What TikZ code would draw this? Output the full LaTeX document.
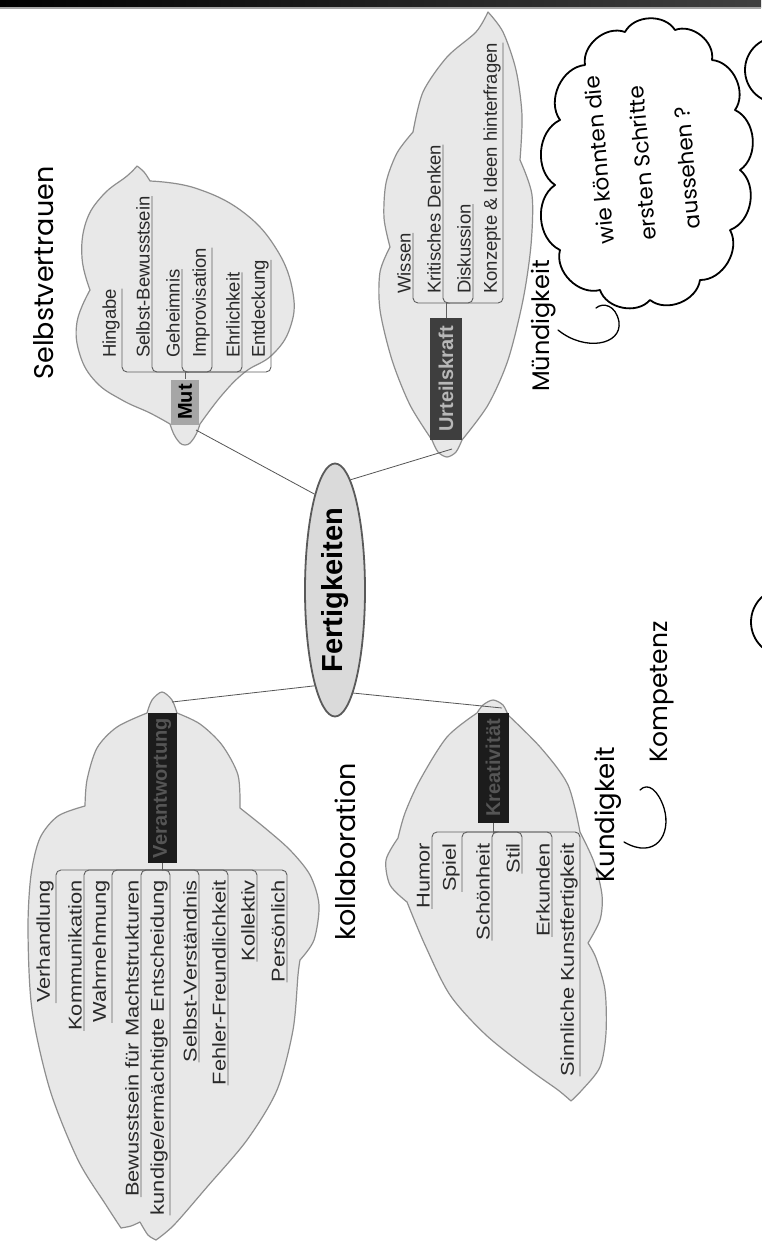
\documentclass[tikz,border=0pt]{standalone}
\usepackage{fontspec}
\setmainfont{Liberation Sans}
\newfontfamily\widesans[FakeStretch=1.18]{Liberation Sans}
\newfontfamily\hand{Poppins}
\usetikzlibrary{shapes.geometric}
\definecolor{cloudfill}{HTML}{E8E8E8}
\definecolor{cloudline}{HTML}{8E8E8E}
\definecolor{branchc}{HTML}{5E5E5E}
\definecolor{lbltext}{HTML}{2A2A2A}
\definecolor{connc}{HTML}{555555}
\definecolor{mutfill}{HTML}{A6A6A6}
\definecolor{urtfill}{HTML}{3E3E3E}
\definecolor{urttext}{HTML}{B8B8B8}
\definecolor{darkfill}{HTML}{1C1C1C}
\definecolor{darktext}{HTML}{555555}
\definecolor{fertfill}{HTML}{DADADA}
\definecolor{fertline}{HTML}{5A5A5A}
\begin{document}
\begin{tikzpicture}[x=1pt, y=-1pt,
 cloudshape/.style={fill=cloudfill, draw=cloudline, line width=1.2pt, line join=round},
 lbl/.style={font=\fontsize{18.5}{20}\selectfont, text=lbltext, rotate=90, inner xsep=0pt, inner ysep=2pt},
 lbllow/.style={lbl, font=\widesans\fontsize{18.5}{20}\selectfont},
 branch/.style={draw=branchc, line width=0.9pt, rounded corners=5pt},
 conn/.style={draw=connc, line width=0.8pt},
 keybox/.style={rotate=90, font=\bfseries\fontsize{20}{22}\selectfont, inner sep=0pt},
 hw/.style={font=\hand\fontsize{22}{24}\selectfont, inner sep=0pt, text=black},
 hwline/.style={draw=black, line width=1.8pt, line cap=round, line join=round}]
\useasboundingbox (0,0) rectangle (761,1243);
\fill[white] (0,0) rectangle (761,1243);
\shade[left color=black, right color=black!75] (0,0) rectangle (761,7);
\fill[black!35] (0,7) rectangle (761,9);

% ---------- clouds ----------
\path[cloudshape] plot[smooth, tension=0.7] coordinates {(170,424) (150,413) (122,400) (96,382) (80,355) (77,322) (90,290)}
 -- plot[smooth, tension=0.7] coordinates {(90,290) (82,258) (86,222) (103,195) (127,176) (137,166)}
 -- plot[smooth, tension=0.7] coordinates {(137,166) (144,172) (150,181)}
 -- plot[smooth, tension=0.7] coordinates {(150,181) (195,188) (243,212) (277,250) (293,293) (290,328) (272,355) (245,372) (222,395) (200,424)}
 -- plot[smooth, tension=0.8] coordinates {(200,424) (194,438) (185,445) (176,438) (170,424)}
 -- cycle;

\path[cloudshape] plot[smooth] coordinates {(432,440) (410,405) (392,360) (380,310) (380,272) (390,247)}
 -- plot[smooth] coordinates {(390,247) (384,218) (386,183) (397,153) (413,132)}
 -- plot[smooth] coordinates {(413,132) (423,92) (447,57) (476,32) (488,12)}
 -- plot[smooth] coordinates {(488,12) (503,32) (516,70) (522,115) (520,160)}
 -- plot[smooth] coordinates {(520,160) (532,195) (531,245) (523,300) (508,360) (488,405) (462,440)}
 -- plot[smooth] coordinates {(462,440) (456,452) (447,457) (438,452) (432,440)}
 -- cycle;

\path[cloudshape] plot[smooth] coordinates {(147,713) (117,727) (97,748) (87,780) (85,806)}
 -- plot[smooth] coordinates {(85,806) (58,816) (40,838) (31,875) (28,930) (32,1010) (50,1090) (78,1160) (106,1205) (121,1228)}
 -- plot[smooth] coordinates {(121,1228) (131,1226) (140,1222)}
 -- plot[smooth] coordinates {(140,1222) (148,1235) (156,1240)}
 -- plot[smooth] coordinates {(156,1240) (174,1225) (207,1187) (247,1140) (277,1090) (293,1030) (298,975) (300,960)}
 -- plot[smooth] coordinates {(300,960) (314,940) (319,905) (310,875) (290,850) (265,828) (240,808)}
 -- plot[smooth] coordinates {(240,808) (238,775) (222,745) (200,724) (177,713)}
 -- plot[smooth] coordinates {(177,713) (172,700) (162,692) (152,700) (147,713)}
 -- cycle;

\path[cloudshape] plot[smooth] coordinates {(477,713) (447,737) (420,780) (405,813) (398,838)}
 -- plot[smooth] coordinates {(398,838) (386,860) (390,885) (407,902)}
 -- plot[smooth] coordinates {(407,902) (425,945) (450,995) (486,1035) (530,1070) (558,1090) (571,1101)}
 -- plot[smooth] coordinates {(571,1101) (582,1090) (600,1067) (606,1033) (605,990) (596,958) (588,943)}
 -- plot[smooth] coordinates {(588,943) (600,920) (602,895) (594,862) (580,832)}
 -- plot[smooth] coordinates {(580,832) (568,785) (541,748) (508,715)}
 -- plot[smooth] coordinates {(508,715) (503,705) (493,700) (483,705) (477,713)}
 -- cycle;

% ---------- key boxes ----------
\node[keybox, fill=mutfill, text=black, minimum width=45pt, minimum height=28pt] (mut) at (185,402) {Mut};
\node[keybox, fill=urtfill, text=urttext, minimum width=122pt, minimum height=32pt] (urt) at (446,379) {Urteilskraft};
\node[keybox, fill=darkfill, text=darktext, minimum width=150pt, minimum height=29pt] (ver) at (162,788) {Verantwortung};
\node[keybox, fill=darkfill, text=darktext, minimum width=110pt, minimum height=31pt] (kre) at (493,768) {Kreativität};

\coordinate (mutbar) at (185,372);
\coordinate (urtbar) at (446,303);
\coordinate (verbar) at (162,870);
\coordinate (krebar) at (493,832);

% ---------- labels: Mut ----------
\node[lbl, anchor=south west] (m1) at (122,358) {Hingabe};
\node[lbl, anchor=south west] (m2) at (152,358) {Selbst-Bewusstsein};
\node[lbl, anchor=south west] (m3) at (182,358) {Geheimnis};
\node[lbl, anchor=south west] (m4) at (212,358) {Improvisation};
\node[lbl, anchor=south west] (m5) at (242,358) {Ehrlichkeit};
\node[lbl, anchor=south west] (m6) at (271,358) {Entdeckung};
\foreach \n in {m1,m2,m3,m4,m5,m6}
  \draw[branch] (\n.south east) -- (\n.south west) |- (mutbar);
\draw[branch] (mutbar) -- (mut.east);

% ---------- labels: Urteilskraft ----------
\node[lbl, anchor=south west] (u1) at (413,294) {Wissen};
\node[lbl, anchor=south west] (u2) at (443,294) {Kritisches Denken};
\node[lbl, anchor=south west] (u3) at (473,294) {Diskussion};
\node[lbl, anchor=south west] (u4) at (503,294) {Konzepte \& Ideen hinterfragen};
\foreach \n in {u1,u2,u3,u4}
  \draw[branch] (\n.south east) -- (\n.south west) |- (urtbar);
\draw[branch] (urtbar) -- (urt.east);

% ---------- labels: Verantwortung ----------
\node[lbllow, anchor=south east] (v1) at (56,880) {Verhandlung};
\node[lbllow, anchor=south east] (v2) at (84,880) {Kommunikation};
\node[lbllow, anchor=south east] (v3) at (112,880) {Wahrnehmung};
\node[lbllow, anchor=south east] (v4) at (141,880) {Bewusstsein für Machtstrukturen};
\node[lbllow, anchor=south east] (v5) at (170,880) {kundige/ermächtigte Entscheidung};
\node[lbllow, anchor=south east] (v6) at (199,880) {Selbst-Verständnis};
\node[lbllow, anchor=south east] (v7) at (228,880) {Fehler-Freundlichkeit};
\node[lbllow, anchor=south east] (v8) at (257,880) {Kollektiv};
\node[lbllow, anchor=south east] (v9) at (287,880) {Persönlich};
\foreach \n in {v1,v2,v3,v4,v5,v6,v7,v8,v9}
  \draw[branch] (\n.south west) -- (\n.south east) |- (verbar);
\draw[branch] (verbar) -- (ver.west);

% ---------- labels: Kreativitaet ----------
\node[lbllow, anchor=south east] (k1) at (432,843) {Humor};
\node[lbllow, anchor=south east] (k2) at (462,843) {Spiel};
\node[lbllow, anchor=south east] (k3) at (492,843) {Schönheit};
\node[lbllow, anchor=south east] (k4) at (522,843) {Stil};
\node[lbllow, anchor=south east] (k5) at (552,843) {Erkunden};
\node[lbllow, anchor=south east] (k6) at (580,843) {Sinnliche Kunstfertigkeit};
\foreach \n in {k1,k2,k3,k4,k5,k6}
  \draw[branch] (\n.south west) -- (\n.south east) |- (krebar);
\draw[branch] (krebar) -- (kre.west);

% ---------- central node ----------
\node[ellipse, rotate=90, draw=fertline, line width=1.8pt, fill=fertfill, minimum width=253pt, minimum height=60pt, inner sep=0pt, font=\bfseries\fontsize{29}{30}\selectfont] (fert) at (335,590) {Fertigkeiten};

\coordinate (mutend) at (196,430);
\coordinate (urtend) at (452,449);
\coordinate (verend) at (172,702);
\coordinate (kreend) at (502,708);
\draw[conn] (fert.12) -- (mutend);
\draw[conn] (fert.-8) -- (urtend);
\draw[conn] (fert.168) -- (verend);
\draw[conn] (fert.190) -- (kreend);

% ---------- handwriting ----------
\node[hw, rotate=90, font=\hand\fontsize{27}{29}\selectfont] (selbst) at (44,273) {Selbstvertrauen};
\node[hw, rotate=90, font=\hand\fontsize{24}{26}\selectfont] (muend) at (544,326) {Mündigkeit};
\draw[hwline, line width=1.3pt] (558,330) .. controls (585,352) and (622,345) .. (619,322) .. controls (616,305) and (603,302) .. (596,308);
\node[hw, rotate=90, font=\hand\fontsize{27}{29}\selectfont] (koll) at (345,852) {kollaboration};
\node[hw, rotate=90, font=\hand\fontsize{26}{28}\selectfont] (kund) at (608,815) {Kundigkeit};
\node[hw, rotate=90, font=\hand\fontsize{25}{27}\selectfont] (komp) at (662,692) {Kompetenz};
\draw[hwline, line width=1.3pt] (624,842) .. controls (655,860) and (672,835) .. (664,808) .. controls (658,790) and (648,782) .. (640,790);

% thought cloud
\draw[hwline] (560,250) to[bend left=60] (555,185) to[bend left=60] (560,120) to[bend left=60] (585,65)
  to[bend left=60] (625,32) to[bend left=60] (675,30) to[bend left=60] (712,60) to[bend left=60] (735,110)
  to[bend left=60] (740,170) to[bend left=60] (730,230) to[bend left=60] (700,280) to[bend left=60] (650,300)
  to[bend left=60] (600,290) to[bend left=60] (560,250);
\node[hw, rotate=95, font=\hand\fontsize{21.5}{23}\selectfont] (t1) at (599,160) {wie könnten die};
\node[hw, rotate=95, font=\hand\fontsize{21.5}{23}\selectfont] (t2) at (642,163) {ersten Schritte};
\node[hw, rotate=95, font=\hand\fontsize{21.5}{23}\selectfont] (t3) at (687,168) {aussehen ?};

\draw[hwline] (778,70) circle (33);
\draw[hwline] (785,622) circle (34);
\end{tikzpicture}
\end{document}
